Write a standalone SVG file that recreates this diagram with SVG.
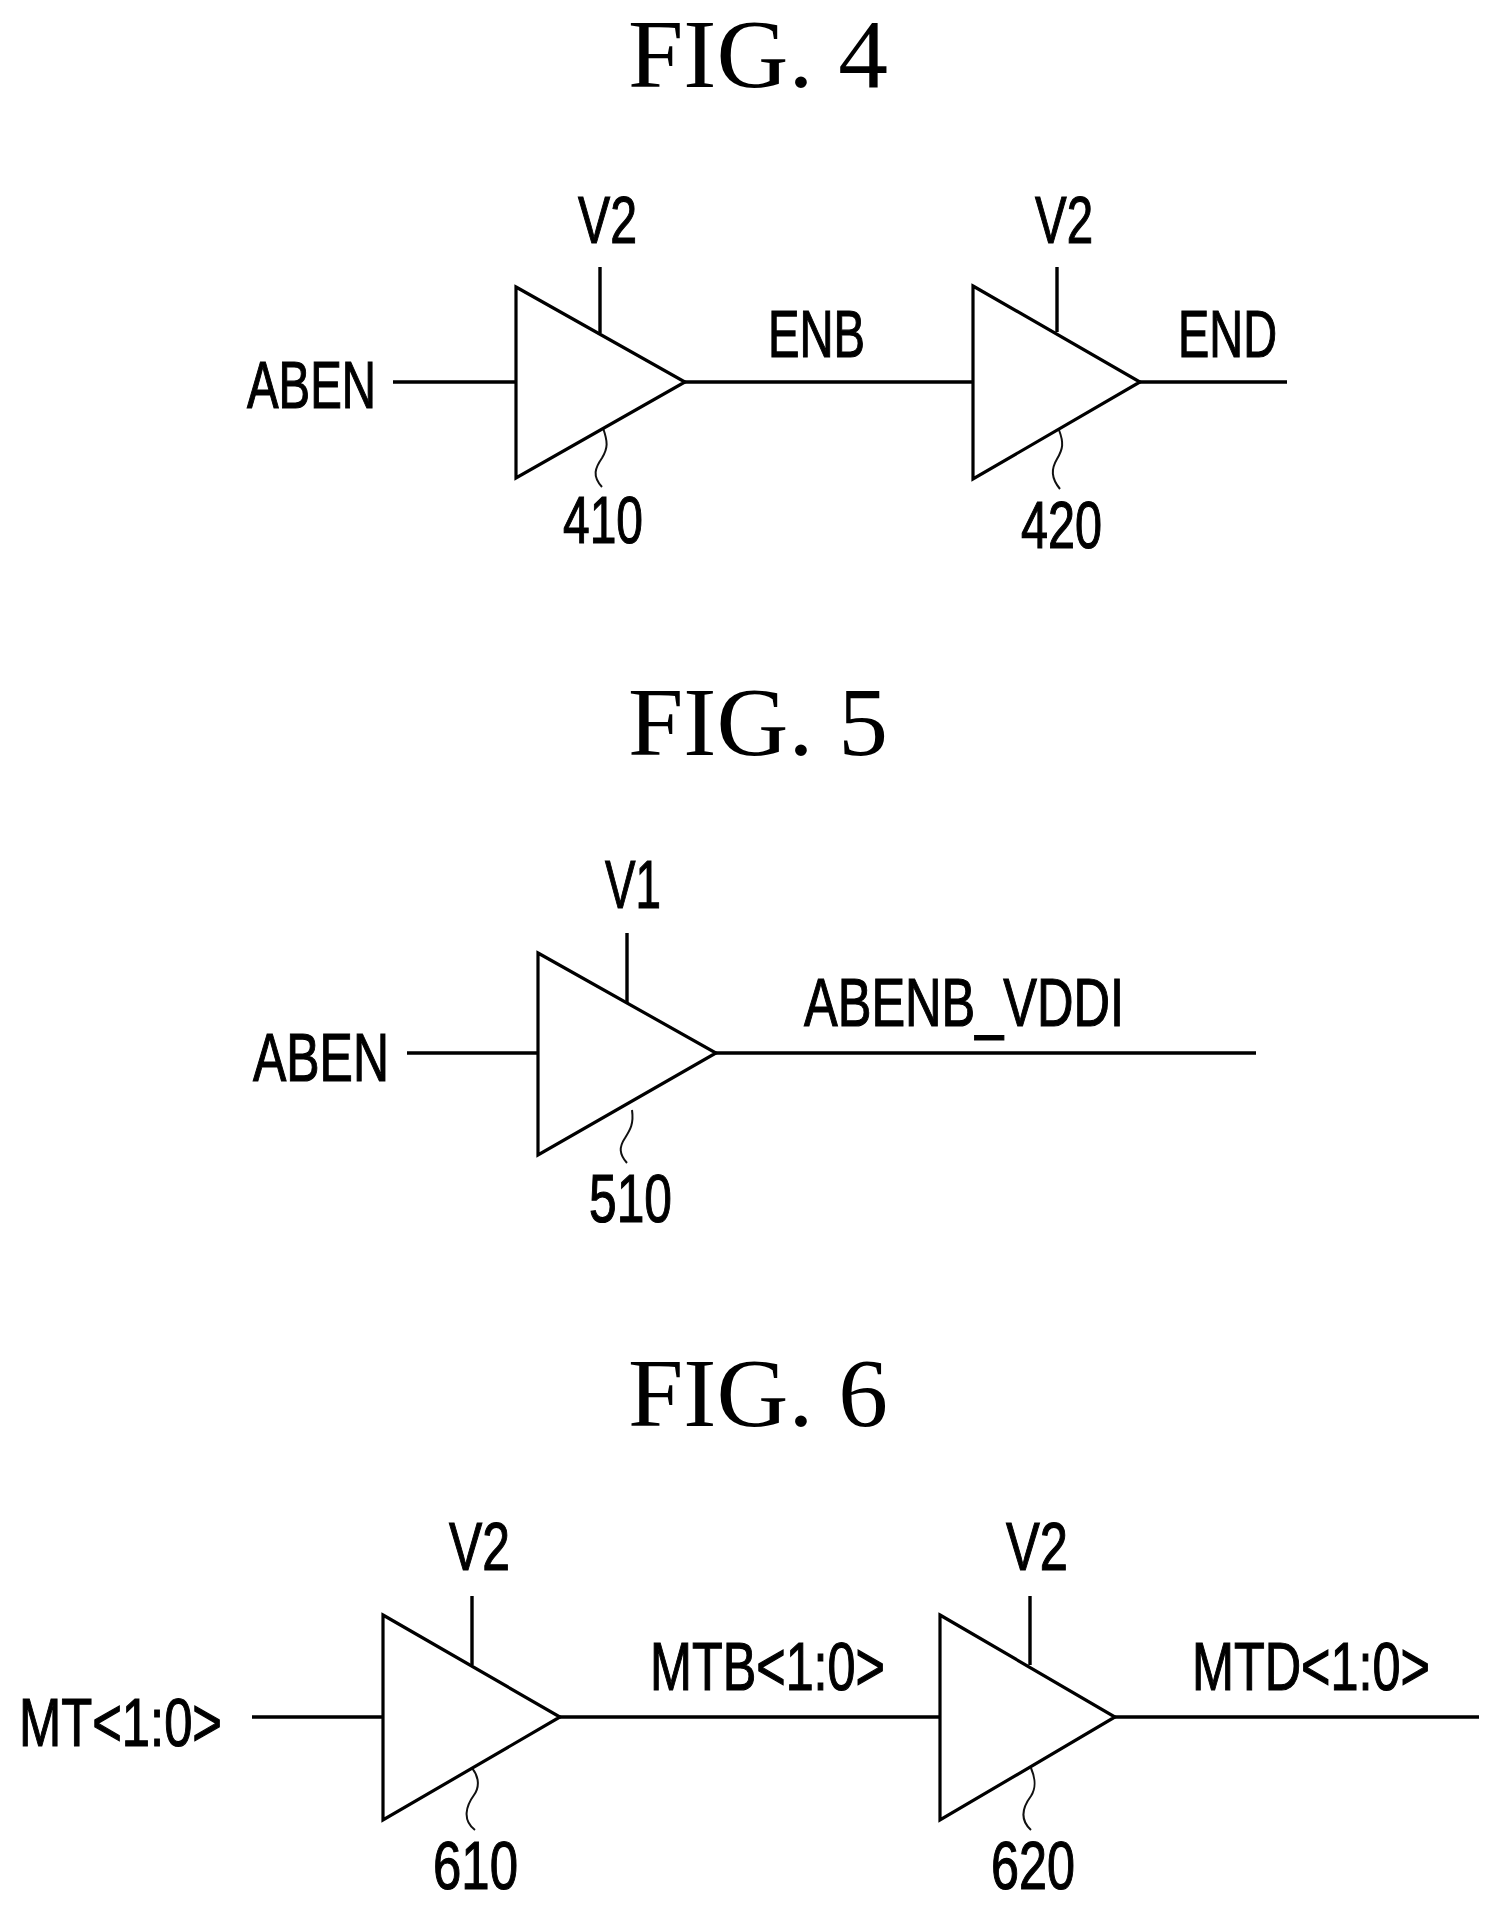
<svg xmlns="http://www.w3.org/2000/svg" width="1500" height="1910" viewBox="0 0 1500 1910">
<style>
.tri{fill:#fff;stroke:#000;stroke-width:3.2;stroke-linejoin:miter}
.wire{fill:none;stroke:#000;stroke-width:3.4}
.sq{fill:none;stroke:#111;stroke-width:2}
.t{font-family:"Liberation Sans",Arial,sans-serif;fill:#000;stroke:#000;stroke-width:1.2;font-size:66px}
.t2{font-family:"Liberation Sans",Arial,sans-serif;fill:#000;stroke:#000;stroke-width:1.2;font-size:69px}
.fig{font-family:"Liberation Serif","Times New Roman",serif;fill:#000;font-size:98px}
</style>
<rect width="1500" height="1910" fill="#fff"/>
<g id="titles">
<text class="fig" x="628" y="87" textLength="260" lengthAdjust="spacingAndGlyphs">FIG. 4</text>
<text class="fig" x="628" y="755" textLength="260" lengthAdjust="spacingAndGlyphs">FIG. 5</text>
<text class="fig" x="628" y="1426" textLength="260" lengthAdjust="spacingAndGlyphs">FIG. 6</text>
</g>
<g id="connectors">
<path class="wire" d="M393 382H516M685 382H973M1140 382H1287M600 267V333M1057 267V332"/>
<path class="wire" d="M407 1053H538M716 1053H1256M627 933V1003"/>
<path class="wire" d="M252 1717H383M560 1717H940M1115 1717H1479M472 1596V1665M1030 1596V1665"/>
<path class="sq" d="M603 428C608 442 608 448 602 458C595 468 592 476 602 487"/>
<path class="sq" d="M1059 430C1064 443 1063 449 1057 459C1051 469 1051 478 1060 489"/>
<path class="sq" d="M632 1110C634 1124 630 1130 625 1138C619 1147 619 1154 627 1163"/>
<path class="sq" d="M472 1768C480 1778 479 1788 474 1795C466 1806 462 1820 475 1830"/>
<path class="sq" d="M1031 1768C1036 1780 1036 1788 1031 1796C1022 1808 1020 1820 1031 1830"/>
</g>
<g id="n410"><polygon class="tri" points="516,287 685,382 516,478"/>
<text class="t" x="563" y="543" textLength="80" lengthAdjust="spacingAndGlyphs">410</text></g>
<g id="n420"><polygon class="tri" points="973,286 1140,382 973,479"/>
<text class="t" x="1021" y="548" textLength="81" lengthAdjust="spacingAndGlyphs">420</text></g>
<g id="n510"><polygon class="tri" points="538,953 716,1053 538,1155"/>
<text class="t2" x="589" y="1222" textLength="83" lengthAdjust="spacingAndGlyphs">510</text></g>
<g id="n610"><polygon class="tri" points="383,1615 560,1717 383,1820"/>
<text class="t2" x="433" y="1889" textLength="85" lengthAdjust="spacingAndGlyphs">610</text></g>
<g id="n620"><polygon class="tri" points="940,1615 1115,1717 940,1820"/>
<text class="t2" x="991" y="1889" textLength="84" lengthAdjust="spacingAndGlyphs">620</text></g>
<g id="labels">
<text class="t" x="247" y="408" textLength="129" lengthAdjust="spacingAndGlyphs">ABEN</text>
<text class="t" x="578" y="243" textLength="59" lengthAdjust="spacingAndGlyphs">V2</text>
<text class="t" x="1035" y="243" textLength="58" lengthAdjust="spacingAndGlyphs">V2</text>
<text class="t" x="768" y="357" textLength="97" lengthAdjust="spacingAndGlyphs">ENB</text>
<text class="t" x="1178" y="357" textLength="99" lengthAdjust="spacingAndGlyphs">END</text>
<text class="t2" x="253" y="1081" textLength="136" lengthAdjust="spacingAndGlyphs">ABEN</text>
<text class="t2" x="605" y="908" textLength="56" lengthAdjust="spacingAndGlyphs">V1</text>
<text class="t2" x="804" y="1026" textLength="320" lengthAdjust="spacingAndGlyphs">ABENB_VDDI</text>
<text class="t2" x="19" y="1746" textLength="203" lengthAdjust="spacingAndGlyphs">MT&lt;1:0&gt;</text>
<text class="t2" x="449" y="1570" textLength="61" lengthAdjust="spacingAndGlyphs">V2</text>
<text class="t2" x="1006" y="1570" textLength="62" lengthAdjust="spacingAndGlyphs">V2</text>
<text class="t2" x="650" y="1690" textLength="235" lengthAdjust="spacingAndGlyphs">MTB&lt;1:0&gt;</text>
<text class="t2" x="1192" y="1690" textLength="238" lengthAdjust="spacingAndGlyphs">MTD&lt;1:0&gt;</text>
</g>
</svg>
